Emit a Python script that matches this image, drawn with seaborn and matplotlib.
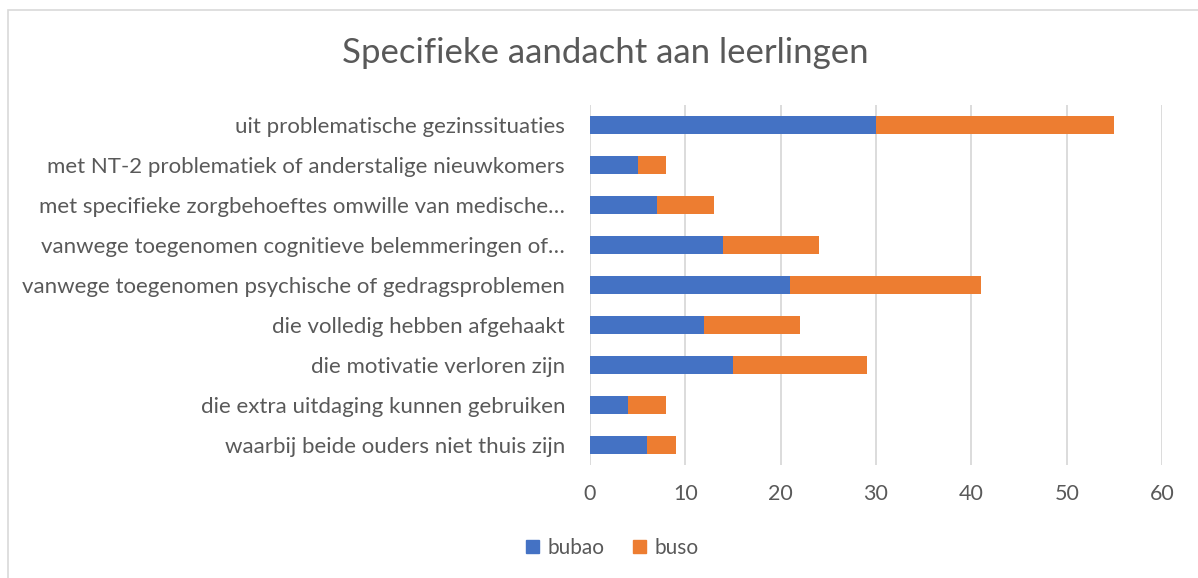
import matplotlib
matplotlib.use("Agg")
import matplotlib.pyplot as plt
import seaborn as sns
import pandas as pd
from matplotlib.patches import Rectangle, Patch

categories = [
    "uit problematische gezinssituaties",
    "met NT-2 problematiek of anderstalige nieuwkomers",
    "met specifieke zorgbehoeftes omwille van medische…",
    "vanwege toegenomen cognitieve belemmeringen of…",
    "vanwege toegenomen psychische of gedragsproblemen",
    "die volledig hebben afgehaakt",
    "die motivatie verloren zijn",
    "die extra uitdaging kunnen gebruiken",
    "waarbij beide ouders niet thuis zijn",
]
bubao = [30, 5, 7, 14, 21, 12, 15, 4, 6]
buso = [25, 3, 6, 10, 20, 10, 14, 4, 3]

df = pd.DataFrame({"cat": categories, "bubao": bubao, "buso": buso})
df["total"] = df["bubao"] + df["buso"]

sns.set_style("white")
plt.rcParams["font.family"] = ["Lato", "DejaVu Sans"]

blue = "#4472C4"
orange = "#ED7D31"
grey = "#595959"

fig = plt.figure(figsize=(11.98, 5.78), dpi=100)
ax = fig.add_axes([0.4925, 0.1955, 0.4775, 0.6228])

sns.barplot(data=df, y="cat", x="total", color=orange, orient="h",
            width=0.45, ax=ax, saturation=1, linewidth=0)
sns.barplot(data=df, y="cat", x="bubao", color=blue, orient="h",
            width=0.45, ax=ax, saturation=1, linewidth=0)

ax.set_xlim(0, 60)
ax.set_xticks(range(0, 61, 10))
ax.set_ylim(len(categories) - 0.5, -0.5)
ax.set_xlabel("")
ax.set_ylabel("")
ax.grid(axis="x", color="#D9D9D9", linewidth=1.3)
ax.set_axisbelow(True)
for s in ax.spines.values():
    s.set_visible(False)
ax.tick_params(axis="y", length=0, labelsize=16, colors=grey, pad=18)
ax.tick_params(axis="x", length=0, labelsize=15.5, colors=grey, pad=14)

fig.text(0.5055, 0.908, "Specifieke aandacht aan leerlingen", ha="center",
         va="center", fontsize=25, color=grey)

handles = [Patch(color=blue, label="bubao"), Patch(color=orange, label="buso")]
fig.legend(handles=handles, loc="center", bbox_to_anchor=(0.511, 0.052), ncol=2,
           frameon=False, fontsize=15, labelcolor=grey, handlelength=0.6,
           handleheight=0.6, columnspacing=1.4, handletextpad=0.4)

fig.patches.append(Rectangle((0.007, -0.01), 1.2, 0.993, transform=fig.transFigure,
                             fill=False, edgecolor="#D9D9D9", linewidth=1.2))

fig.savefig("out.png", dpi=100)
